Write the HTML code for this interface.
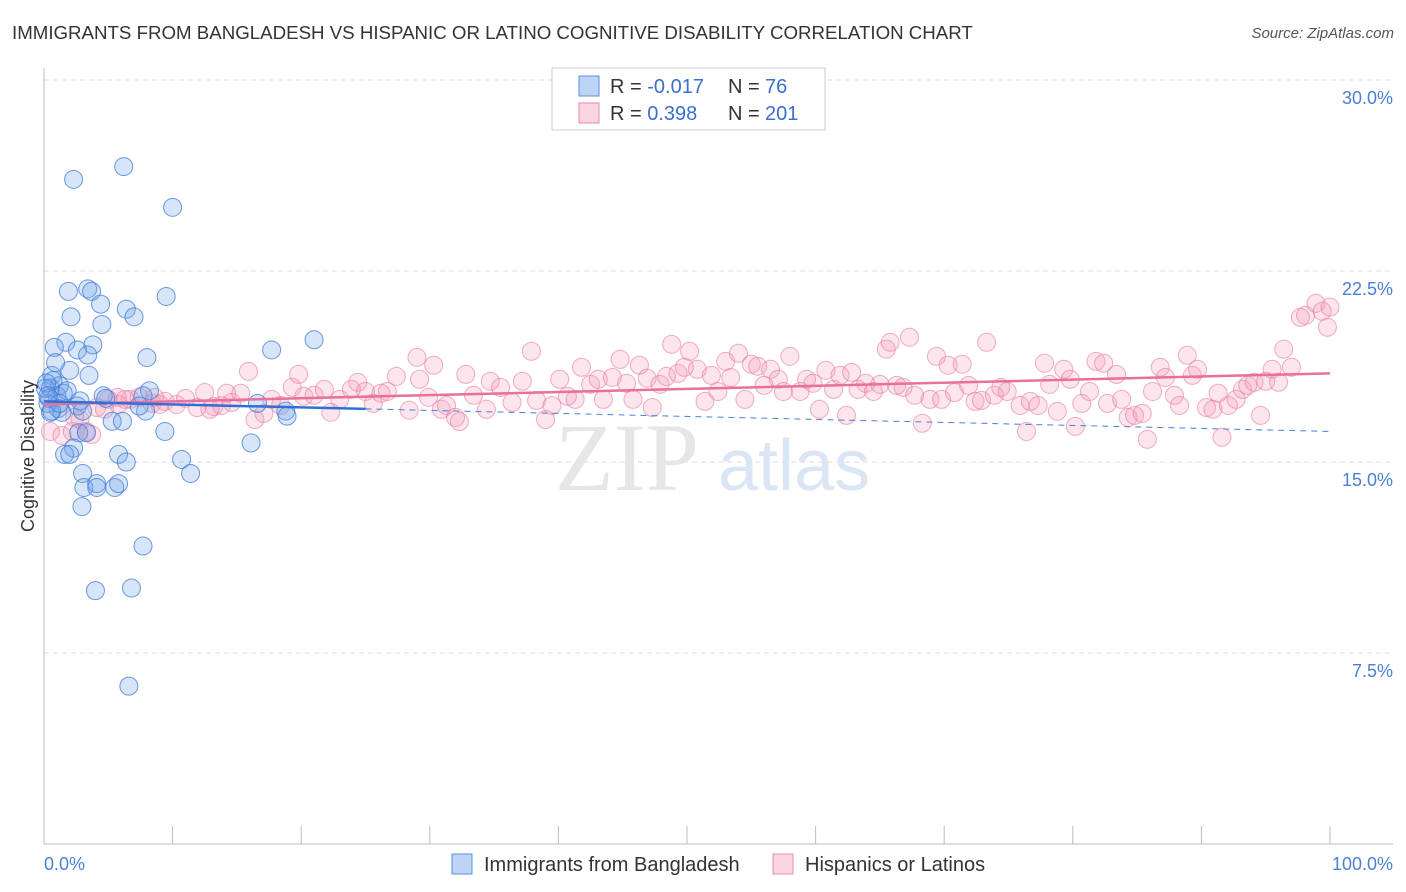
<!DOCTYPE html>
<html><head><meta charset="utf-8">
<style>
body{margin:0;background:#fff;font-family:"Liberation Sans",sans-serif;}
#wrap{position:relative;width:1406px;height:892px;overflow:hidden;}
.t{position:absolute;white-space:nowrap;}
</style></head>
<body>
<div id="wrap">
<div class="t" style="left:12px;top:22px;font-size:18.7px;color:#333;">IMMIGRANTS FROM BANGLADESH VS HISPANIC OR LATINO COGNITIVE DISABILITY CORRELATION CHART</div>
<div class="t" style="right:12px;top:25px;font-size:15px;color:#555;font-style:italic;">Source: ZipAtlas.com</div>
<svg id="plot" width="1406" height="892" style="position:absolute;left:0;top:0"></svg>
</div>
<script>
const yTickValues=[7.5,15,22.5,30];
const yTickLabels=["7.5%","15.0%","22.5%","30.0%"];
const xTickValues=[0,10,20,30,40,50,60,70,80,90,100];
const blueX=[2.3,6.2,10.0,1.9,3.4,3.7,4.4,6.4,7.0,9.5,2.1,4.5,1.7,3.8,0.8,2.6,3.4,8.0,17.7,21.0,2.0,3.5,0.6,1.2,0.5,0.7,8.2,1.0,4.6,7.7,0.3,1.1,2.6,7.9,16.6,18.8,0.5,1.4,5.3,6.1,18.9,2.7,3.3,9.4,16.1,2.3,1.6,2.0,5.8,10.7,6.4,11.4,3.0,3.1,4.1,4.1,5.5,5.8,2.95,7.7,4.0,6.8,6.6,0.9,0.1,0.4,1.5,0.2,2.8,4.8,7.4,0.6,1.8,3.0,0.3,1.2];
const blueY=[26.1,26.6,25.0,21.7,21.8,21.7,21.2,21.0,20.7,21.5,20.7,20.4,19.7,19.6,19.5,19.4,19.2,19.1,19.4,19.8,18.6,18.4,18.4,18.0,17.9,18.2,17.8,17.6,17.6,17.6,17.3,17.1,17.2,17.0,17.3,17.0,16.95,16.95,16.6,16.6,16.8,16.15,16.15,16.2,15.75,15.55,15.3,15.3,15.3,15.1,15.0,14.55,14.55,14.0,14.15,14.0,14.0,14.15,13.25,11.7,9.95,10.05,6.2,18.9,17.9,17.5,17.7,18.1,17.4,17.5,17.2,17.0,17.8,17.0,17.6,17.3];
const pinkX=[0.5,1.4,2.2,2.8,3.3,4.1,5.0,5.8,6.7,7.4,8.4,9.4,10.3,11.0,11.9,12.5,13.2,13.8,14.6,15.3,15.9,16.4,17.1,17.7,18.4,19.3,19.8,20.2,21.0,21.8,22.3,23.0,23.9,24.4,25.0,25.6,26.2,26.7,27.4,28.4,29.0,29.2,29.9,30.3,30.9,31.3,32.0,32.3,32.8,33.4,34.4,34.7,35.5,36.4,37.2,37.9,38.3,39.0,39.5,40.1,40.7,41.3,41.8,42.5,43.1,43.5,44.2,44.8,45.3,45.8,46.3,46.9,47.3,47.9,48.4,48.8,49.3,49.8,50.2,50.8,51.4,51.9,52.4,53.0,53.4,54.0,54.5,55.0,55.5,56.0,56.5,57.1,57.5,58.0,58.8,59.3,59.8,60.3,60.8,61.4,61.9,62.4,62.8,63.3,63.9,64.5,65.0,65.5,65.8,66.3,66.8,67.3,67.7,68.3,68.9,69.4,69.8,70.3,70.8,71.4,71.9,72.4,72.9,73.3,73.9,74.4,74.9,75.9,76.4,76.7,77.3,77.8,78.2,78.8,79.3,79.8,80.2,80.7,81.3,81.8,82.4,82.7,83.4,83.8,84.3,84.8,85.4,85.8,86.2,86.8,87.2,87.9,88.3,88.9,89.3,89.7,90.4,90.9,91.6,91.3,92.1,92.7,93.2,93.6,94.1,94.6,95.0,95.5,96.0,96.4,97.0,97.7,98.1,98.9,99.4,99.8,100.0,5.7,6.3,8.6,9.0,12.9,14.2,2.4,3.7,4.7];
const pinkY=[16.2,16.04,16.2,16.67,16.2,17.14,17.46,17.26,17.46,17.54,17.3,17.38,17.26,17.5,17.14,17.73,17.18,17.22,17.34,17.7,18.56,16.67,16.91,17.46,17.22,17.93,18.44,17.58,17.62,17.85,16.95,17.46,17.85,18.13,17.77,17.3,17.7,17.77,18.36,17.03,19.11,18.25,17.54,18.8,17.07,17.22,16.75,16.59,18.44,17.62,17.07,18.17,17.93,17.34,18.17,19.35,17.42,16.67,17.22,18.25,17.58,17.46,18.72,18.05,18.25,17.46,18.32,19.03,18.09,17.46,18.8,18.29,17.14,18.05,18.36,19.62,18.48,18.72,19.35,18.64,17.38,18.4,17.77,18.95,18.32,19.27,17.46,18.84,18.76,18.01,18.64,18.25,17.77,19.15,17.77,18.25,18.09,17.07,18.6,17.85,18.4,16.83,18.52,17.85,18.09,17.77,18.05,19.43,19.7,18.01,17.93,19.9,17.62,16.52,17.46,19.15,17.46,18.8,17.73,18.84,18.01,17.38,17.42,19.7,17.62,17.93,17.77,17.22,16.2,17.38,17.22,18.88,18.05,16.99,18.64,18.25,16.4,17.3,17.77,18.95,18.88,17.3,18.44,17.46,16.75,16.83,16.91,15.89,17.77,18.72,18.32,17.62,17.22,19.19,18.4,18.64,17.14,17.07,15.97,17.7,17.22,17.46,17.85,18.01,18.13,16.83,18.17,18.64,18.13,19.43,18.72,20.68,20.76,21.23,20.92,20.29,21.08,17.54,17.46,17.54,17.26,17.07,17.7,16.75,16.08,17.07];
const blueTrend=[17.38,16.2];
const pinkTrend=[17.26,18.48];
const blueSolidEnd=25;

const X0=44,X1=1330,Y0=844,Y30=80;
const sx=v=>X0+(X1-X0)*v/100;
const sy=v=>Y0-(Y0-Y30)*v/30;
const svg=document.getElementById('plot');
const NS='http://www.w3.org/2000/svg';
function mk(tag,attrs,parent){const e=document.createElementNS(NS,tag);for(const k in attrs)e.setAttribute(k,attrs[k]);(parent||svg).appendChild(e);return e;}

yTickValues.forEach((v,i)=>{
  const g=mk('line',{x1:X0,x2:1393,y1:sy(v),y2:sy(v),stroke:'#ddd','stroke-dasharray':'5,4'});
  
  
  const t=mk('text',{x:1393,y:sy(v)+24,'text-anchor':'end','font-size':18,fill:'#4a7fd4','font-family':'Liberation Sans, sans-serif'});
  t.textContent=yTickLabels[i];
  
  
});
const ax=mk('line',{x1:X0,x2:X0,y1:68,y2:Y0,stroke:'#bbb'});


const bx=mk('line',{x1:X0,x2:1393,y1:Y0,y2:Y0,stroke:'#bbb'});


xTickValues.forEach(v=>{
  const t=mk('line',{x1:sx(v),x2:sx(v),y1:826,y2:Y0,stroke:'#bbb'});
  
  
});
const wm=mk('text',{x:555,y:490,'font-size':96,fill:'#e6e6e6','font-family':'Liberation Serif, serif'});
wm.textContent='ZIP';


const wm2=mk('text',{x:718,y:490,'font-size':72,fill:'#dbe6f4','font-family':'Liberation Sans, sans-serif'});
wm2.textContent='atlas';



pinkX.forEach((x,i)=>{
  const c=mk('circle',{cx:sx(x),cy:sy(pinkY[i]),r:9,fill:'rgba(243,150,180,0.25)',stroke:'rgba(232,120,160,0.6)','stroke-width':1});
  
  
});
blueX.forEach((x,i)=>{
  const c=mk('circle',{cx:sx(x),cy:sy(blueY[i]),r:9,fill:'rgba(110,160,235,0.28)',stroke:'rgba(60,120,215,0.75)','stroke-width':1});
  
  
});
const bAt=v=>blueTrend[0]+(blueTrend[1]-blueTrend[0])*v/100;
const bd=mk('line',{x1:sx(blueSolidEnd),y1:sy(bAt(blueSolidEnd)),x2:sx(100),y2:sy(bAt(100)),stroke:'#4a7fd4','stroke-width':1,'stroke-dasharray':'6,5'});


const pl=mk('line',{x1:sx(0),y1:sy(pinkTrend[0]),x2:sx(100),y2:sy(pinkTrend[1]),stroke:'#e8709a','stroke-width':2.5});


const bl=mk('line',{x1:sx(0),y1:sy(bAt(0)),x2:sx(blueSolidEnd),y2:sy(bAt(blueSolidEnd)),stroke:'#2f6fd6','stroke-width':2.5});



const xl0=mk('text',{x:44,y:870,'font-size':18,fill:'#4a7fd4','font-family':'Liberation Sans, sans-serif'});
xl0.textContent='0.0%';


const xl1=mk('text',{x:1393,y:870,'text-anchor':'end','font-size':18,fill:'#4a7fd4','font-family':'Liberation Sans, sans-serif'});
xl1.textContent='100.0%';


const yt=mk('text',{x:0,y:0,'font-size':18,fill:'#333','text-anchor':'middle','font-family':'Liberation Sans, sans-serif',transform:'translate(34,456) rotate(-90)'});
yt.textContent='Cognitive Disability';



const lb=mk('rect',{x:552,y:68,width:273,height:62,fill:'#fff',stroke:'#ccc'});


[[['R = ','-0.017','N = ',' 76'],'rgba(110,160,235,0.45)','#5b8fe0',86],[['R = ',' 0.398','N = ','201'],'rgba(243,150,180,0.4)','#e88aaa',113]].forEach(([t,f,s,y])=>{
  const r=mk('rect',{x:579,y:y-10,width:20,height:20,fill:f,stroke:s});
  
  
  const tx=mk('text',{x:610,y:y+7,'font-size':20,fill:'#333','font-family':'Liberation Sans, sans-serif'});
  
  
  tx.innerHTML=`${t[0]}<tspan fill="#3a6fd0">${t[1]}</tspan><tspan x="728">${t[2]}</tspan><tspan fill="#3a6fd0" x="765">${t[3]}</tspan>`;
});
[[452,'Immigrants from Bangladesh','rgba(110,160,235,0.45)','#5b8fe0','legend-bangladesh'],[773,'Hispanics or Latinos','rgba(243,150,180,0.4)','#e88aaa','legend-hispanic']].forEach(([x,t,f,s,n])=>{
  const r=mk('rect',{x:x,y:854,width:20,height:20,fill:f,stroke:s});
  
  
  const tx=mk('text',{x:x+32,y:871,'font-size':20,fill:'#333','font-family':'Liberation Sans, sans-serif'});
  tx.textContent=t;
  
  
});
</script>
</body></html>
